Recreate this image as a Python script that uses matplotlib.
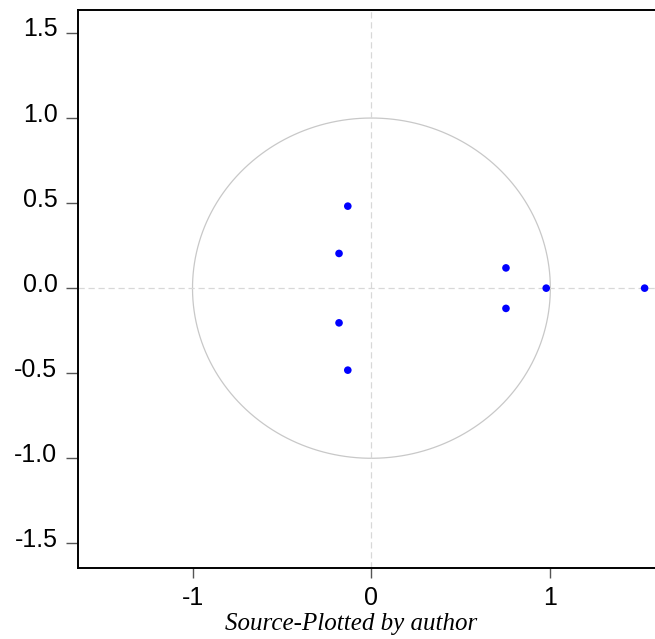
import numpy as np
import matplotlib
matplotlib.use("Agg")
import matplotlib.pyplot as plt
from matplotlib.transforms import ScaledTranslation

# Inverse roots (real, imaginary)
re_parts = [1.527, 0.977, 0.752, 0.752, -0.132, -0.132, -0.181, -0.181]
im_parts = [0.0, 0.0, 0.119, -0.119, 0.482, -0.482, 0.204, -0.204]

x_ticks = [-1, 0, 1]
x_labels = ["-1", "0", "1"]
y_ticks = [-1.5, -1.0, -0.5, 0.0, 0.5, 1.0, 1.5]
y_labels = ["-1.5", "-1.0", "-0.5", "0.0", "0.5", "1.0", "1.5"]
caption = "Source-Plotted by author"

W, H = 655, 639
fig = plt.figure(figsize=(W / 100, H / 100), dpi=100)
ax = fig.add_axes([78 / W, (H - 568) / H, 1 - 78 / W, (568 - 10) / H])

theta = np.linspace(0, 2 * np.pi, 400)
ax.plot(np.cos(theta), np.sin(theta), color="#c8c8c8", lw=0.9, zorder=1)
ax.axhline(0, color="#d8d8d8", lw=0.9, ls=(0, (5, 3)), zorder=1)
ax.axvline(0, color="#d8d8d8", lw=0.9, ls=(0, (5, 3)), zorder=1)
ax.scatter(re_parts, im_parts, s=30, color="#0000ff", edgecolors="none", zorder=3)

ax.set_xlim(-1.64, 1.585)
ax.set_ylim(-1.645, 1.635)
ax.set_xticks(x_ticks)
ax.set_xticklabels(x_labels)
ax.set_yticks(y_ticks)
ax.set_yticklabels(y_labels)

for side in ["left", "bottom", "top"]:
    ax.spines[side].set_linewidth(1.4)
    ax.spines[side].set_color("black")
ax.spines["right"].set_visible(False)

ax.tick_params(axis="y", direction="out", length=8.3, width=1.0, color="#555555",
               labelsize=18, pad=6.5)
ax.tick_params(axis="x", direction="out", length=7.3, width=1.0, color="#555555",
               labelsize=18, pad=5.5)
for lab in ax.get_xticklabels() + ax.get_yticklabels():
    lab.set_fontfamily("Liberation Sans")
up = ScaledTranslation(0, 6 / 100, fig.dpi_scale_trans)
for lab in ax.get_yticklabels():
    lab.set_transform(lab.get_transform() + up)

fig.text(351 / W, 1 - 624 / H, caption, ha="center", va="center",
         fontfamily="Liberation Serif", fontstyle="italic", fontsize=18)

fig.savefig("out.png", dpi=100)
